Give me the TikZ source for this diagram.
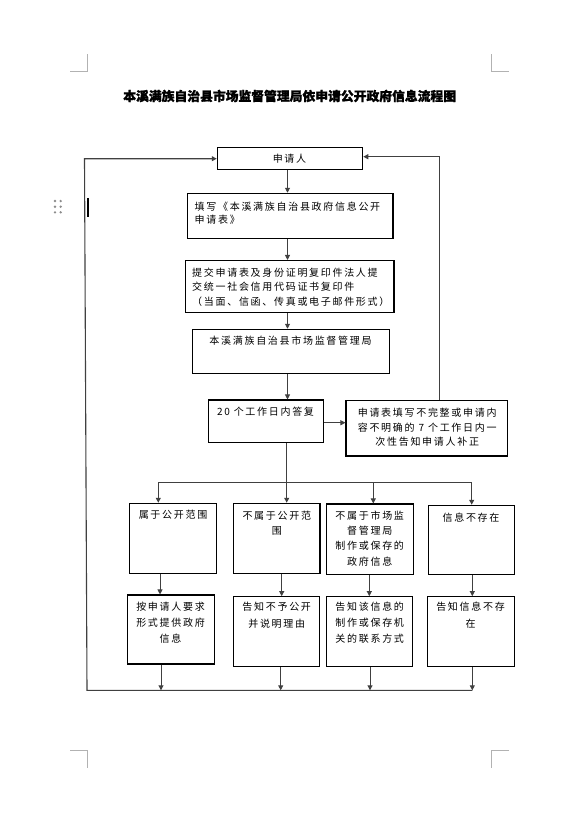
\documentclass[tikz,border=0pt]{standalone}
\usepackage{fontspec}
\usetikzlibrary{arrows.meta}
\newfontfamily\cjk{Noto Sans CJK SC}[LetterSpace=17]
\newfontfamily\cjkt{Noto Sans CJK SC}[BoldFeatures={FakeBold=1.2}]
\begin{document}
\begin{tikzpicture}[x=1pt,y=-1pt,
  box/.style={draw=black,line width=1.1pt,inner sep=0pt,rectangle},
  txt/.style={inner sep=0pt,align=center,font=\cjk\fontsize{10}{15.5}\selectfont},
  conn/.style={draw=black!75,line width=0.9pt},
  arr/.style={conn,-{Triangle[width=5pt,length=5pt]}},
  pagemark/.style={draw=black!30,line width=0.8pt}]
\useasboundingbox[fill=white] (0,0) rectangle (580,820);
% page marks
\draw[pagemark] (87.3,54) -- (87.3,71.7) -- (70,71.7);
\draw[pagemark] (491.3,54) -- (491.3,71.7) -- (508.7,71.7);
\draw[pagemark] (70,750) -- (87.3,750) -- (87.3,767.7);
\draw[pagemark] (509,750) -- (491.7,750) -- (491.7,767.7);
\foreach \px in {55,60.7}{\foreach \py in {201,206.7,212.3}{\fill[black!45] (\px,\py) circle (1.3pt);}}
\draw[black,line width=2pt] (88.3,198.3) -- (88.3,217.3);
% title
\node[inner sep=0pt,font=\cjkt\bfseries\fontsize{12.8}{14}\selectfont] (title) at (289.7,96) {本溪满族自治县市场监督管理局依申请公开政府信息流程图};
% boxes
\node[box,minimum width=145.4pt,minimum height=22pt] (b1) at (290,158.3) {};
\node[box,minimum width=205.7pt,minimum height=45pt] (b2) at (290.15,215.8) {};
\node[box,minimum width=208.3pt,minimum height=52pt] (b3) at (289.85,286.5) {};
\node[box,minimum width=196.6pt,minimum height=44pt] (b4) at (291,351.3) {};
\node[box,minimum width=115pt,minimum height=42.7pt] (b5) at (265.8,421.35) {};
\node[box,minimum width=161.3pt,minimum height=55.3pt] (b6) at (426.65,428.35) {};
\node[box,minimum width=87.4pt,minimum height=70pt] (ra) at (173,538.3) {};
\node[box,minimum width=86.7pt,minimum height=70pt] (rb) at (276.65,538.3) {};
\node[box,minimum width=86.6pt,minimum height=70.3pt] (rc) at (370,539.15) {};
\node[box,minimum width=86pt,minimum height=69pt] (rd) at (471.3,539.8) {};
\node[box,minimum width=87pt,minimum height=69pt] (sa) at (170.8,629.5) {};
\node[box,minimum width=86pt,minimum height=70pt] (sb) at (276.3,631.7) {};
\node[box,minimum width=86pt,minimum height=70pt] (sc) at (369.7,631.7) {};
\node[box,minimum width=86.6pt,minimum height=70pt] (sd) at (471,631.7) {};
% texts
\node[txt] (t1) at (289.5,158.5) {申请人};
\node[txt,anchor=west,align=left,font=\cjk\fontsize{10}{13.3}\selectfont] (t2) at (194.5,213.3) {填写《本溪满族自治县政府信息公开\\申请表》};
\node[txt,anchor=west,align=left,font=\cjk\fontsize{10}{14.5}\selectfont] (t3) at (192,287.2) {提交申请表及身份证明复印件法人提\\交统一社会信用代码证书复印件\\（当面、信函、传真或电子邮件形式）};
\node[txt] (t4) at (290.5,340.7) {本溪满族自治县市场监督管理局};
\node[txt] (t5) at (265.5,411.7) {20 个工作日内答复};
\node[txt,font=\cjk\fontsize{10}{14.5}\selectfont] (t6) at (427.2,427.3) {申请表填写不完整或申请内\\容不明确的 7 个工作日内一\\次性告知申请人补正};
\node[txt] (ta) at (173,515) {属于公开范围};
\node[txt] (tb) at (276.8,523.3) {不属于公开范\\围};
\node[txt,font=\cjk\fontsize{10}{15.4}\selectfont] (tc) at (369.7,538.3) {不属于市场监\\督管理局\\制作或保存的\\政府信息};
\node[txt] (td) at (471,517.3) {信息不存在};
\node[txt,font=\cjk\fontsize{10}{15.8}\selectfont] (tsa) at (170.5,622.5) {按申请人要求\\形式提供政府\\信息};
\node[txt,font=\cjk\fontsize{10}{16.6}\selectfont] (tsb) at (276.7,615) {告知不予公开\\并说明理由};
\node[txt,font=\cjk\fontsize{10}{15.8}\selectfont] (tsc) at (369.7,622.5) {告知该信息的\\制作或保存机\\关的联系方式};
\node[txt,font=\cjk\fontsize{10}{16.6}\selectfont] (tsd) at (470.5,615) {告知信息不存\\在};
% helper coordinates
\coordinate (spine) at (287.5,0);
\coordinate (h56) at (0,422.7);
\coordinate (rtop) at (439.3,156.7);
\coordinate (ltop) at (84.5,158.7);
\coordinate (lbot) at (87,690.3);
\coordinate (brA) at (158.3,482.7);
\coordinate (brB) at (286.7,482.7);
\coordinate (brC) at (373.3,482.7);
\coordinate (brD) at (471.7,482.7);
\coordinate (ca) at (160,0);  \coordinate (da) at (161,0);
\coordinate (cb) at (281.7,0); \coordinate (db) at (280.7,0);
\coordinate (cc) at (369.3,0); \coordinate (dc) at (370,0);
\coordinate (cd) at (472.3,0); \coordinate (dd) at (472.3,0);
% main chain
\draw[arr] (b1.south -| spine) -- (b2.north -| spine);
\draw[arr] (b2.south -| spine) -- (b3.north -| spine);
\draw[arr] (b3.south -| spine) -- (b4.north -| spine);
\draw[arr] (b4.south -| spine) -- (b5.north -| spine);
\draw[arr] (b5.east |- h56) -- (b6.west |- h56);
\draw[arr] (b6.north -| rtop) -- (rtop) -- (b1.east |- rtop);
% branch
\draw[conn] (b5.south -| brB) -- (brB);
\draw[conn] (brA) -- (brD);
\draw[arr] (brA) -- (ra.north -| brA);
\draw[arr] (brB) -- (rb.north -| brB);
\draw[arr] (brC) -- (rc.north -| brC);
\draw[arr] (brD) -- (rd.north -| brD);
% second level
\draw[arr] (ra.south -| ca) -- (sa.north -| ca);
\draw[arr] (rb.south -| cb) -- (sb.north -| cb);
\draw[arr] (rc.south -| cc) -- (sc.north -| cc);
\draw[arr] (rd.south -| cd) -- (sd.north -| cd);
% to bottom line
\draw[arr] (sa.south -| da) -- (da |- lbot);
\draw[arr] (sb.south -| db) -- (db |- lbot);
\draw[arr] (sc.south -| dc) -- (dc |- lbot);
\draw[arr] (sd.south -| dd) -- (dd |- lbot);
% feedback loop
\draw[arr,line width=1.1pt] (dd |- lbot) -- (lbot) -- (ltop) -- (b1.west |- ltop);
\end{tikzpicture}
\end{document}
